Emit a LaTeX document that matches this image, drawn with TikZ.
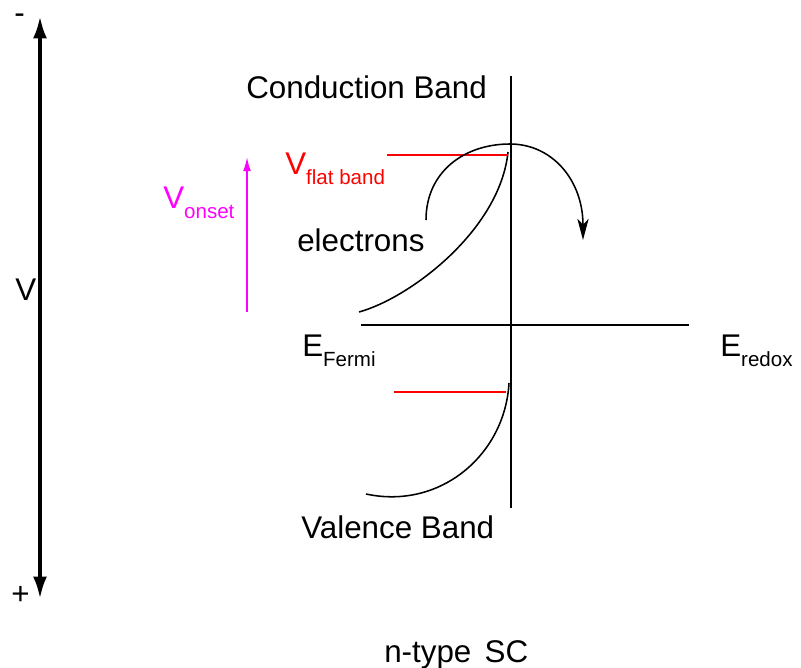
\documentclass[tikz,border=0pt]{standalone}
\usepackage{fontspec}
\setmainfont{Liberation Sans}
\usetikzlibrary{arrows.meta,positioning,calc}
\usepackage{xcolor}
\definecolor{onsetmag}{RGB}{255,0,255}
\definecolor{flatred}{RGB}{255,0,0}
\newcommand{\lbl}{\fontsize{22.3}{26}\selectfont}
\newcommand{\lowsub}[1]{\raisebox{-7pt}{\fontsize{14.6}{16}\selectfont #1}}

\begin{document}
\begin{tikzpicture}[>=Latex,x=0.025cm,y=-0.025cm,
  txt/.style={font=\lbl,inner sep=0pt,anchor=base west},
  band/.style={line width=1.1pt}]
\useasboundingbox (0,0) rectangle (801,668);
% potential scale on the left
\coordinate (vminus) at (40,16);
\coordinate (vplus) at (40,599);
\draw[{Latex[length=16pt,width=10pt]}-{Latex[length=16pt,width=10pt]},line width=2.8pt] (vplus) -- (vminus);
\node[txt] (minus) at (14,24) {-};
\node[txt] (plus) at (11,604) {+};
\node[txt] (vlab) at (15,301) {V};
% interface and Fermi level
\coordinate (axtop) at (511,76);
\coordinate (axbot) at (511,508);
\coordinate (efl) at (361,325);
\coordinate (efr) at (689,325);
\draw[band] (axtop) -- (axbot);
\draw[band] (efl) -- (efr);
% band edges
\coordinate (cbl) at (359,312);
\coordinate (cbr) at (508,152);
\coordinate (vbl) at (366,494);
\coordinate (vbr) at (509,383);
\draw[band] (cbl) .. controls (410,298) and (500,230) .. (cbr);
\draw[band] (vbl) .. controls (440,510) and (505,455) .. (vbr);
% flat band levels
\coordinate (fbl) at (387,155);
\coordinate (fbr) at (508,155);
\coordinate (vfl) at (394,392);
\coordinate (vfr) at (506,392);
\draw[flatred,line width=1.1pt] (fbl) -- (fbr);
\draw[flatred,line width=1.1pt] (vfl) -- (vfr);
% onset shift
\coordinate (onbot) at (247,312);
\coordinate (ontop) at (247,157);
\draw[{Latex[length=10pt,width=5.5pt]}-,onsetmag,line width=1.1pt] (ontop) -- (onbot);
% electron transfer
\coordinate (etl) at (426,220);
\coordinate (ettop) at (510,144);
\coordinate (etr) at (583,240);
\draw[-{Stealth[length=15pt,width=8pt,inset=4pt]},band] (etl) .. controls (426,172) and (464,144) .. (ettop)
  .. controls (552,144) and (583,180) .. (etr);
% labels
\node[txt] (cb) at (246,99) {Conduction Band};
\node[txt] (vb) at (301,538) {Valence Band};
\node[txt] (el) at (297,252) {electrons};
\node[txt,flatred] (vfb) at (285,175) {V\lowsub{flat band}};
\node[txt,onsetmag] (von) at (163,209) {V\lowsub{onset}};
\node[txt] (ef) at (302,357) {E\lowsub{Fermi}};
\node[txt] (er) at (720,357) {E\lowsub{redox}};
\node[txt] (nt) at (384,662) {n-type};
\node[right=9pt of nt.base east,anchor=base west,txt] (sc) {SC};
\end{tikzpicture}
\end{document}
